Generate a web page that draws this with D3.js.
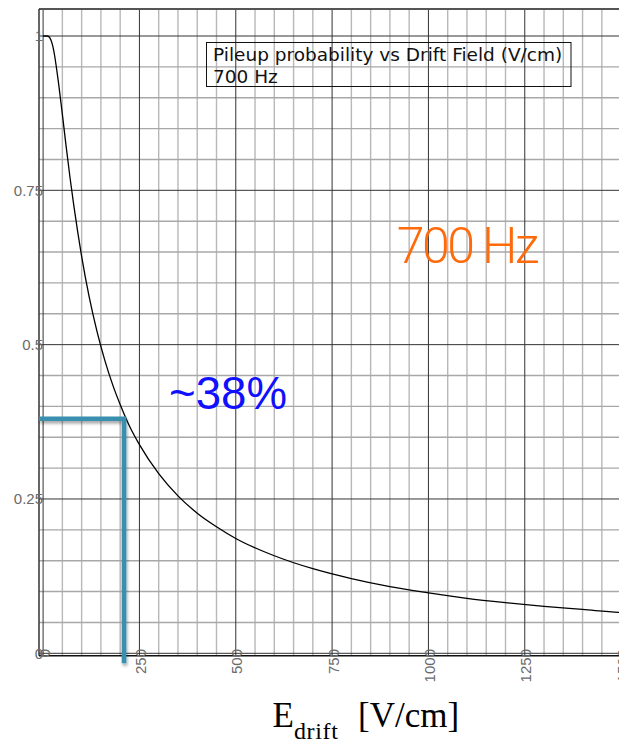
<!DOCTYPE html>
<html>
<head>
<meta charset="utf-8">
<script src="https://cdn.jsdelivr.net/npm/d3@7/dist/d3.min.js"></script>
<style>
  html, body { margin: 0; padding: 0; background: #fff; }
  svg { display: block; }
</style>
</head>
<body>
<script>
// Pileup probability as a function of drift field, 700 Hz
const fieldValues = [0, 5, 10, 15, 20, 25, 30, 35, 40, 50, 60, 70, 80, 90, 100, 120, 140, 160, 180, 200,
  225, 250, 300, 350, 400, 450, 500, 600, 700, 800, 900, 1000, 1100, 1200, 1300, 1400, 1500, 1550];
const pileupValues = [1, 1, 1, 0.999, 0.994, 0.984, 0.968, 0.947, 0.924, 0.873, 0.820, 0.770, 0.724, 0.682,
  0.643, 0.576, 0.521, 0.475, 0.436, 0.403, 0.367, 0.338, 0.291, 0.255, 0.227, 0.205, 0.186, 0.158, 0.137,
  0.121, 0.108, 0.098, 0.089, 0.082, 0.076, 0.071, 0.066, 0.064];
const curvePoints = fieldValues.map((e, i) => ({ e, p: pileupValues[i] }));

const xTicks = [0, 250, 500, 750, 1000, 1250, 1500];
const yTicks = [0, 0.25, 0.5, 0.75, 1];
const xMinorStep = 50;
const yMinorStep = 0.05;

// Working point marked on the curve
const markerField = 210;
const markerValue = 0.38;
const markerLabel = "~38%";
const rateLabel = "700 Hz";
const legendLines = ["Pileup probability vs Drift Field (V/cm)", "700 Hz"];

const W = 619, H = 744;
const svg = d3.select("body").append("svg").attr("width", W).attr("height", H);
svg.append("rect").attr("width", W).attr("height", H).attr("fill", "#fff");

const x = d3.scaleLinear().domain([0, 1500]).range([43.1, 621.1]);
const y = d3.scaleLinear().domain([0, 1]).range([653.3, 36]);

const frame = { left: 39, top: 9, bottom: 655.8, right: W };

const defs = svg.append("defs");
defs.append("clipPath").attr("id", "plotClip")
  .append("rect").attr("x", frame.left).attr("y", frame.top)
  .attr("width", frame.right - frame.left).attr("height", frame.bottom - frame.top);
const shadow = defs.append("filter").attr("id", "markShadow")
  .attr("x", "-20%").attr("y", "-20%").attr("width", "140%").attr("height", "140%");
shadow.append("feDropShadow").attr("dx", 1).attr("dy", 2.5).attr("stdDeviation", 1.6)
  .attr("flood-color", "#000").attr("flood-opacity", 0.35);

const plot = svg.append("g").attr("clip-path", "url(#plotClip)");

// minor grid
const xMinor = d3.range(0, 1500 + 1, xMinorStep).filter(v => v % 250 !== 0);
const yMinor = d3.range(0, 1.0001, yMinorStep).map(v => +v.toFixed(2)).filter(v => Math.round(v * 100) % 25 !== 0);

plot.append("g").selectAll("line").data(xMinor).join("line")
  .attr("x1", d => x(d)).attr("x2", d => x(d))
  .attr("y1", frame.top).attr("y2", frame.bottom)
  .attr("stroke", "#b8b8b8").attr("stroke-width", 1.4);
plot.append("g").selectAll("line").data(yMinor).join("line")
  .attr("x1", frame.left).attr("x2", frame.right)
  .attr("y1", d => y(d)).attr("y2", d => y(d))
  .attr("stroke", "#a8a8a8").attr("stroke-width", 1.4);

// major grid
plot.append("g").selectAll("line").data(xTicks).join("line")
  .attr("x1", d => x(d)).attr("x2", d => x(d))
  .attr("y1", frame.top).attr("y2", frame.bottom)
  .attr("stroke", "#333").attr("stroke-width", 1);
plot.append("g").selectAll("line").data(yTicks).join("line")
  .attr("x1", frame.left).attr("x2", frame.right)
  .attr("y1", d => y(d)).attr("y2", d => y(d))
  .attr("stroke", "#333").attr("stroke-width", 1);

// frame
svg.append("line").attr("x1", frame.left).attr("x2", frame.right)
  .attr("y1", frame.top).attr("y2", frame.top)
  .attr("stroke", "#555").attr("stroke-width", 2);
svg.append("line").attr("x1", frame.left).attr("x2", frame.left)
  .attr("y1", frame.top).attr("y2", frame.bottom)
  .attr("stroke", "#333").attr("stroke-width", 1.5);
svg.append("line").attr("x1", frame.left).attr("x2", frame.right)
  .attr("y1", frame.bottom).attr("y2", frame.bottom)
  .attr("stroke", "#111").attr("stroke-width", 1.5);

// legend box
const legend = svg.append("g");
legend.append("rect").attr("x", 206.5).attr("y", 42.5).attr("width", 364.5).attr("height", 44)
  .attr("fill", "none").attr("stroke", "#111").attr("stroke-width", 1);
legend.selectAll("text").data(legendLines).join("text")
  .attr("x", 213).attr("y", (d, i) => 61 + i * 22.3)
  .attr("font-family", "'DejaVu Sans', Verdana, sans-serif").attr("font-size", 18.5)
  .attr("fill", "#111").text(d => d);

// curve
const line = d3.line().x(d => x(d.e)).y(d => y(d.p)).curve(d3.curveMonotoneX);
plot.append("path").datum(curvePoints).attr("d", line)
  .attr("fill", "none").attr("stroke", "#000").attr("stroke-width", 1.3);

// working-point marker
svg.append("path")
  .attr("d", `M${frame.left},${y(markerValue)} H${x(markerField)} V${frame.bottom + 7.5}`)
  .attr("fill", "none").attr("stroke", "#3a8fae").attr("stroke-width", 4.6)
  .attr("stroke-linejoin", "miter").attr("filter", "url(#markShadow)");

// tick labels
const tickFont = "'Liberation Sans', Arial, Helvetica, sans-serif";
svg.append("g").selectAll("text").data(yTicks).join("text")
  .attr("x", 43).attr("y", d => y(d)).attr("dy", "0.36em")
  .attr("text-anchor", "end").attr("font-family", tickFont).attr("font-size", 15)
  .attr("fill", "#6a6a6a").text(d => d3.format("~g")(d));
svg.append("g").selectAll("text").data(xTicks).join("text")
  .attr("transform", d => `translate(${x(d) + 1},649) rotate(-90)`)
  .attr("dy", "0.36em").attr("text-anchor", "end")
  .attr("font-family", tickFont).attr("font-size", 15)
  .attr("fill", "#6a6a6a").text(d => d);

// annotations
svg.append("text").attr("x", 169).attr("y", 409.3)
  .attr("font-family", "'Liberation Sans', Arial, sans-serif")
  .attr("font-size", 47).attr("fill", "#1010ff")
  .attr("textLength", 118).attr("lengthAdjust", "spacingAndGlyphs")
  .text(markerLabel);
svg.append("text").attr("x", 396.7).attr("y", 263.3)
  .attr("font-family", "Roboto, 'Liberation Sans', sans-serif").attr("font-weight", 300)
  .attr("font-size", 50).attr("fill", "#ff6a0a")
  .attr("textLength", 142.6).attr("lengthAdjust", "spacing")
  .text(rateLabel);

// axis title
const title = svg.append("text").attr("y", 727.3)
  .attr("font-family", "'Liberation Serif', 'Times New Roman', serif").attr("fill", "#000");
title.append("tspan").attr("x", 272.5).attr("font-size", 35).text("E");
title.append("tspan").attr("font-size", 24).attr("dy", 12).attr("textLength", 44)
  .attr("lengthAdjust", "spacing").text("drift");
title.append("tspan").attr("x", 358).attr("dy", -12).attr("font-size", 35).text("[V/cm]");
</script>
</body>
</html>
